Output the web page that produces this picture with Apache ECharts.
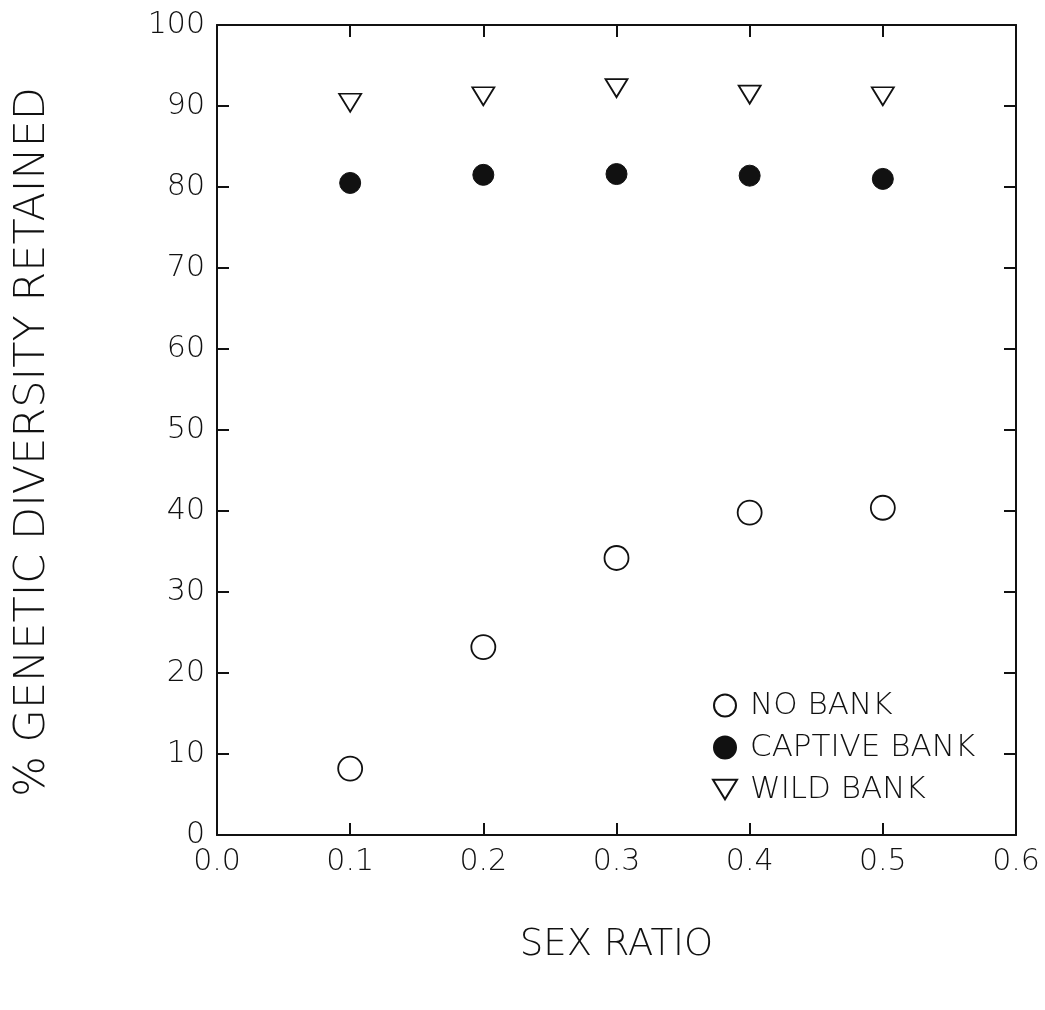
<!DOCTYPE html>
<html><head><meta charset="utf-8">
<script src="https://cdn.jsdelivr.net/npm/echarts@6/dist/echarts.min.js"></script>
<style>html,body{margin:0;padding:0;background:#fff}#c{width:1045px;height:1010px}</style>
</head><body><div id="c"></div>
<script>
const sexRatio = [0.1, 0.2, 0.3, 0.4, 0.5];
const noBank = [8.2, 23.2, 34.2, 39.8, 40.4];
const captiveBank = [80.5, 81.5, 81.6, 81.4, 81.0];
const wildBank = [90.4, 91.2, 92.2, 91.4, 91.2];
const xTicks = ['0.0','0.1','0.2','0.3','0.4','0.5','0.6'];
const yTicks = ['0','10','20','30','40','50','60','70','80','90','100'];
const xTitle = 'SEX RATIO';
const yTitle = '% GENETIC DIVERSITY RETAINED';
const seriesNames = ['NO BANK', 'CAPTIVE BANK', 'WILD BANK'];

const FONT = 'DejaVu Sans';
const INK = '#111';
const pair = (xs, ys) => xs.map((x, i) => [x, ys[i]]);
const axisCommon = {
  axisLine: {show: true, onZero: false, lineStyle: {color: INK, width: 2}},
  axisTick: {show: true, inside: true, length: 12, lineStyle: {color: INK, width: 2}},
  splitLine: {show: false}
};
const downTri = 'path://M0,0 L22,0 L11,18 Z';
const chart = echarts.init(document.getElementById('c'));
chart.setOption({
  animation: false,
  backgroundColor: '#fff',
  grid: {left: 217, right: 29, top: 25, bottom: 175, containLabel: false},
  graphic: [{
    type: 'text', x: 33, y: 442, rotation: Math.PI / 2,
    style: {text: yTitle, font: '200 43px "DejaVu Sans"', fill: INK,
      textAlign: 'center', textVerticalAlign: 'middle'}
  }],
  xAxis: [
    Object.assign({type: 'value', min: 0, max: 0.6, interval: 0.1, position: 'bottom',
      name: xTitle, nameLocation: 'middle', nameGap: 92,
      nameTextStyle: {fontFamily: FONT, fontWeight: 200, fontSize: 37, color: INK},
      axisLabel: {margin: 12, fontFamily: FONT, fontWeight: 200, fontSize: 30, color: INK,
        formatter: v => xTicks[Math.round(v * 10)]}}, axisCommon),
    Object.assign({type: 'value', min: 0, max: 0.6, interval: 0.1, position: 'top',
      axisLabel: {show: false}}, axisCommon)
  ],
  yAxis: [
    Object.assign({type: 'value', min: 0, max: 100, interval: 10, position: 'left',
      axisLabel: {margin: 12, fontFamily: FONT, fontWeight: 200, fontSize: 30, color: INK,
        formatter: v => yTicks[Math.round(v / 10)]}}, axisCommon),
    Object.assign({type: 'value', min: 0, max: 100, interval: 10, position: 'right',
      axisLabel: {show: false}}, axisCommon)
  ],
  legend: {
    orient: 'vertical', left: 707, top: 685, itemGap: 11, itemWidth: 24, itemHeight: 22,
    textStyle: {fontFamily: FONT, fontWeight: 200, fontSize: 31, color: INK, padding: [0, 0, 0, 8]},
    data: [
      {name: seriesNames[0], icon: 'circle'},
      {name: seriesNames[1], icon: 'circle'},
      {name: seriesNames[2], icon: downTri}
    ]
  },
  series: [
    {name: seriesNames[0], type: 'scatter', data: pair(sexRatio, noBank), symbol: 'circle', symbolSize: 24,
      itemStyle: {color: '#fff', borderColor: INK, borderWidth: 1.8, opacity: 1}},
    {name: seriesNames[1], type: 'scatter', data: pair(sexRatio, captiveBank), symbol: 'circle', symbolSize: 21,
      itemStyle: {color: INK, borderColor: INK, borderWidth: 1, opacity: 1}},
    {name: seriesNames[2], type: 'scatter', data: pair(sexRatio, wildBank), symbol: 'triangle', symbolRotate: 180,
      symbolSize: [22, 18], itemStyle: {color: '#fff', borderColor: INK, borderWidth: 1.8, opacity: 1}}
  ]
});
</script></body></html>
